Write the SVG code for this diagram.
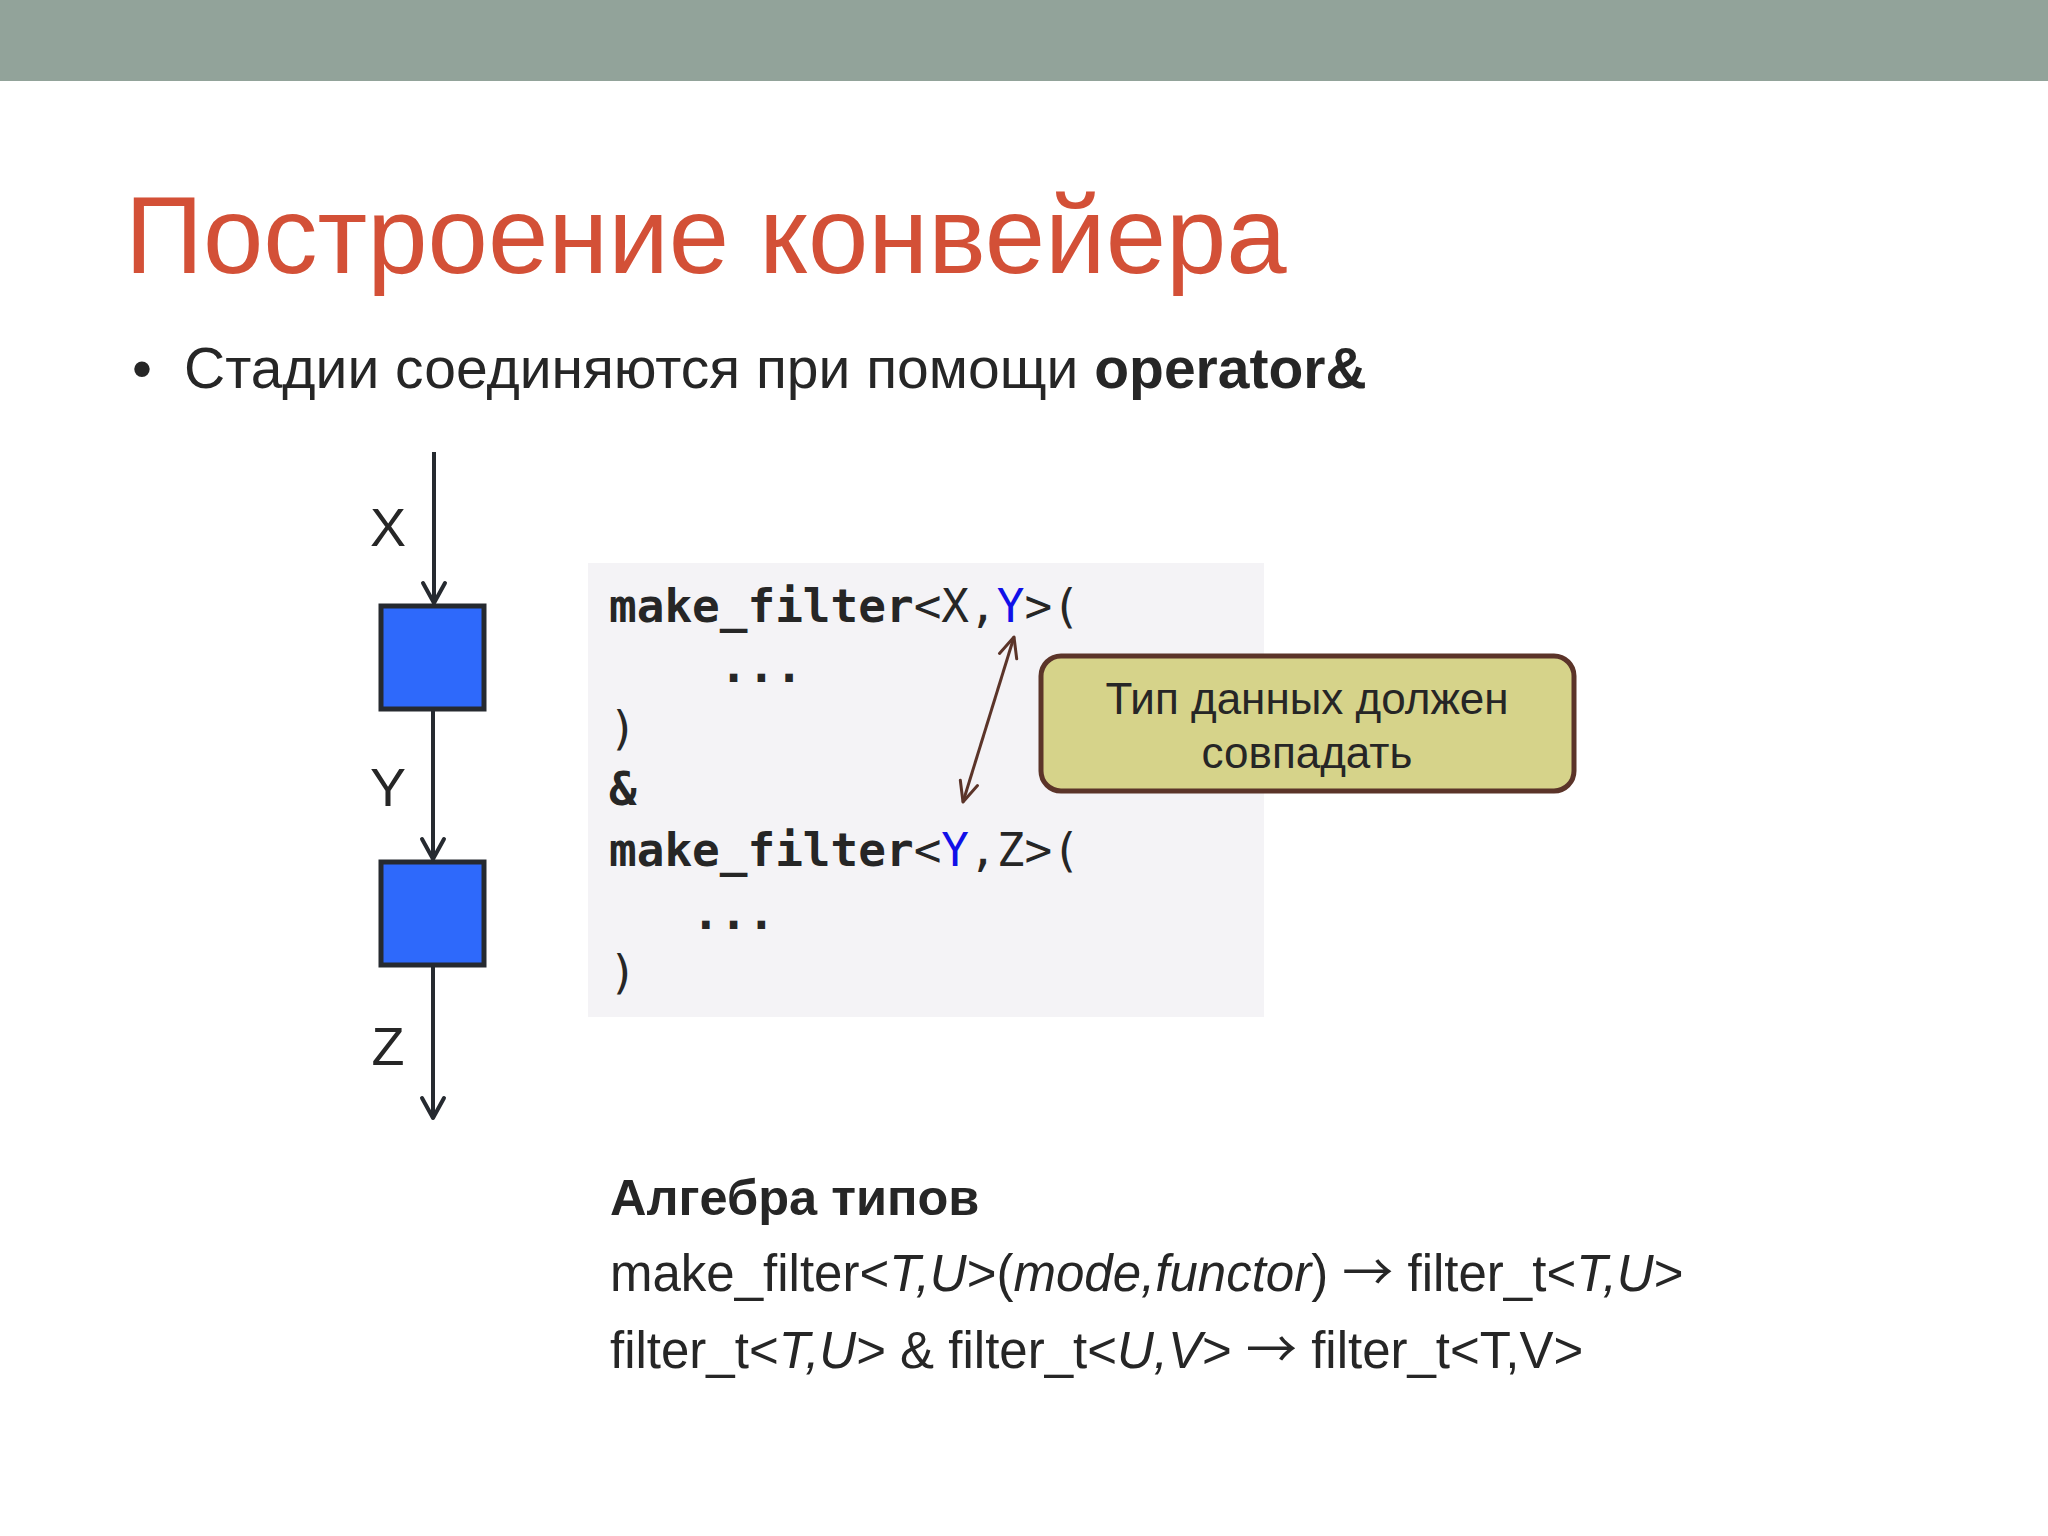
<svg xmlns="http://www.w3.org/2000/svg" width="2048" height="1536" viewBox="0 0 2048 1536">
<defs>
<style>
.sans{font-family:"Liberation Sans",Arial,sans-serif;fill:#262626}
.mono{font-family:"DejaVu Sans Mono","Liberation Mono",monospace;font-size:46px;fill:#262626}
.b{font-weight:bold}
.i{font-style:italic}
.arr{font-family:"Noto Sans CJK SC","Liberation Sans",sans-serif;font-weight:normal;font-style:normal}
.flow{stroke:#262a30;stroke-width:4;fill:none}
.stage{fill:#2e69fb;stroke:#262a30;stroke-width:5}
.note{stroke:#5b3429;stroke-width:3;fill:none}
</style>
<marker id="ah" markerUnits="userSpaceOnUse" viewBox="0 0 26 28" refX="23" refY="14" markerWidth="26" markerHeight="28" orient="auto-start-reverse">
<path d="M3,3 L23,14 L3,25" fill="none" stroke="#262a30" stroke-width="4" stroke-linecap="round" stroke-linejoin="round"/>
</marker>
<marker id="ahb" markerUnits="userSpaceOnUse" viewBox="0 0 26 24" refX="23" refY="12" markerWidth="26" markerHeight="24" orient="auto-start-reverse">
<path d="M3,3 L23,12 L3,21" fill="none" stroke="#5b3429" stroke-width="3" stroke-linecap="round" stroke-linejoin="round"/>
</marker>
</defs>
<rect x="0" y="0" width="2048" height="1536" fill="#ffffff"/>
<rect id="topbar" x="0" y="0" width="2048" height="81" fill="#92a39a"/>

<g id="title">
<text x="125" y="273" font-family="Liberation Sans, Arial, sans-serif" font-size="108.5" fill="#d35037">Построение конвейера</text>
</g>
<g id="bullet">
<text class="sans" x="132" y="388" font-size="57">•</text>
<text class="sans" x="184" y="388" font-size="57">Стадии соединяются при помощи <tspan class="b">operator&amp;</tspan></text>
</g>

<g id="stage1"><rect class="stage" x="381" y="606" width="103" height="103"/></g>
<g id="stage2"><rect class="stage" x="381" y="862" width="103" height="103"/></g>
<g id="labels">
<text class="sans" x="388" y="546" font-size="54" text-anchor="middle">X</text>
<text class="sans" x="388" y="806" font-size="54" text-anchor="middle">Y</text>
<text class="sans" x="388" y="1065" font-size="54" text-anchor="middle">Z</text>
</g>

<g id="code">
<rect x="588" y="563" width="676" height="454" fill="#f4f3f6"/>
<text class="mono" x="609" y="622"><tspan class="b">make_filter</tspan>&lt;X,<tspan fill="#1010e8">Y</tspan>&gt;(</text>
<text class="mono b" x="609" y="682" xml:space="preserve">    ...</text>
<text class="mono" x="609" y="744">)</text>
<text class="mono b" x="609" y="805">&amp;</text>
<text class="mono" x="609" y="866"><tspan class="b">make_filter</tspan>&lt;<tspan fill="#1010e8">Y</tspan>,Z&gt;(</text>
<text class="mono b" x="609" y="929" xml:space="preserve">   ...</text>
<text class="mono" x="609" y="988">)</text>
</g>

<g id="callout">
<rect x="1041" y="656" width="533" height="135" rx="20" ry="20" fill="#d6d38a" stroke="#5b3429" stroke-width="5"/>
<text class="sans" x="1307" y="714" font-size="44" text-anchor="middle">Тип данных должен</text>
<text class="sans" x="1307" y="768" font-size="44" text-anchor="middle">совпадать</text>
</g>

<g id="algebra">
<text class="sans b" x="610" y="1215" font-size="50.5">Алгебра типов</text>
<text class="sans" x="610" y="1291" font-size="51">make_filter&lt;<tspan class="i">T,U</tspan>&gt;(<tspan class="i">mode,functor</tspan>) <tspan class="arr">→</tspan> filter_t&lt;<tspan class="i">T,U</tspan>&gt;</text>
<text class="sans" x="610" y="1368" font-size="51">filter_t&lt;<tspan class="i">T,U</tspan>&gt; &amp; filter_t&lt;<tspan class="i">U,V</tspan>&gt; <tspan class="arr">→</tspan> filter_t&lt;T,V&gt;</text>
</g>

<g id="connectors">
<line class="flow" x1="434" y1="452" x2="434" y2="603" marker-end="url(#ah)"/>
<line class="flow" x1="433" y1="709" x2="433" y2="859" marker-end="url(#ah)"/>
<line class="flow" x1="433" y1="965" x2="433" y2="1118" marker-end="url(#ah)"/>
<line class="note" x1="1014" y1="637" x2="963" y2="802" marker-start="url(#ahb)" marker-end="url(#ahb)"/>
</g>
</svg>
